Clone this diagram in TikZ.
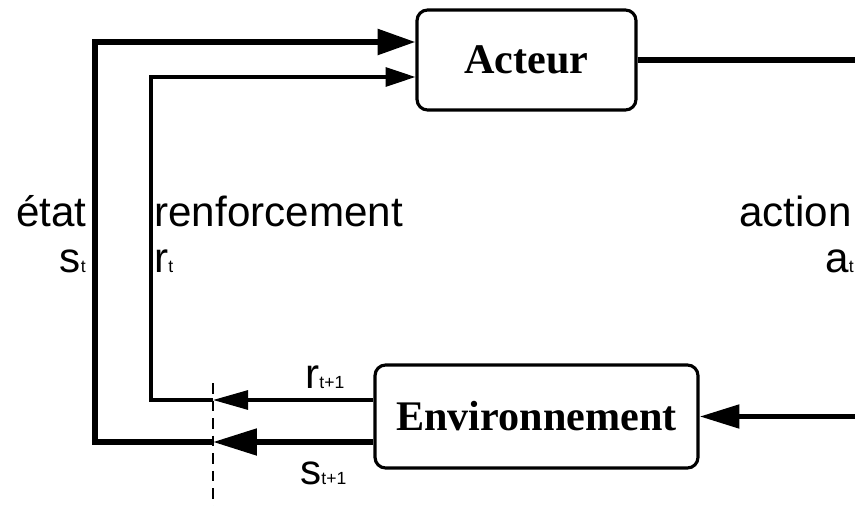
\documentclass[tikz,border=0pt]{standalone}
\usepackage{fontspec}
\setmainfont{Liberation Serif}
\setsansfont{Liberation Sans}
\usetikzlibrary{arrows.meta}

\newcommand\idx[1]{{\fontsize{10}{10}\selectfont #1}}

\tikzset{
  box/.style={draw, line width=1.8pt, rounded corners=6pt, inner sep=0pt,
    font=\fontsize{24}{28}\selectfont\bfseries},
  lbl/.style={font=\sffamily\fontsize{24}{28}\selectfont, inner sep=0pt},
  heavy/.style={line width=3.2pt},
  light/.style={line width=1.9pt},
}

\begin{document}
\begin{tikzpicture}[x=0.02cm, y=-0.02cm]
    \useasboundingbox (0,0) rectangle (855,506);

    % blocks
    \node[box, minimum width=4.38cm, minimum height=2cm] (acteur) at (526.5,60) {Acteur};
    \node[box, minimum width=6.46cm, minimum height=2.06cm] (env) at (536.5,416.5) {Environnement};

    % cut
    \coordinate (cutR) at (213,400);
    \coordinate (cutS) at (213,442);
    \draw[line width=1pt, dash pattern=on 6pt off 4pt] (213,383) -- (213,506);

    % state loop
    \draw[heavy, -{Triangle[length=25pt, width=14.7pt]}] (env.west |- cutS) -- (cutS);
    \draw[heavy, -{Triangle[length=21.5pt, width=14.2pt]}] (cutS) -| (95,42) -- (acteur.west |- 0,42);

    % reward loop
    \draw[light, -{Triangle[length=20pt, width=10.8pt]}] (env.west |- cutR) -- (cutR);
    \draw[light, -{Triangle[length=17pt, width=10.8pt]}] (cutR) -| (151,77) -- (acteur.west |- 0,77);

    % action
    \coordinate (outA) at (860,60);
    \coordinate (inA) at (860,416.5);
    \draw[heavy] (acteur.east) -- (outA);
    \draw[heavy, -{Triangle[length=22.7pt, width=13pt]}] (inA) -- (env.east);

    % labels
    \node[lbl, anchor=base east] (etat) at (87,227) {état};
    \node[lbl, anchor=base east] (st) at (86,273) {s\idx{t}};
    \node[lbl, anchor=base west] (renf) at (154,227) {renforcement};
    \node[lbl, anchor=base west] (rt) at (154,273) {r\idx{t}};
    \node[lbl, anchor=base east] (action) at (852,227) {action};
    \node[lbl, anchor=base west] (at) at (825,273) {a\idx{t}};
    \node[lbl, anchor=base west] (rnext) at (305,388) {r\idx{t+1}};
    \node[lbl, anchor=base west] (snext) at (300,484) {s\idx{t+1}};
\end{tikzpicture}
\end{document}
